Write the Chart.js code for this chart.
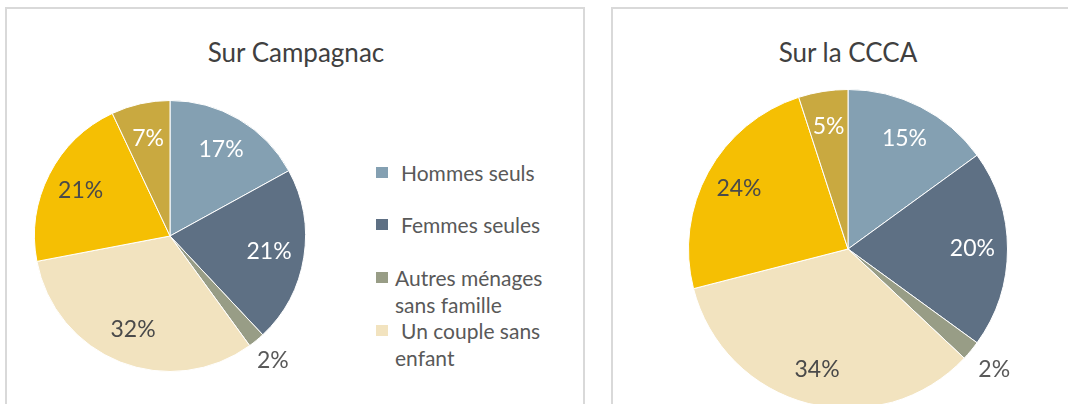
<!DOCTYPE html>
<html>
<head>
<meta charset="utf-8">
<script src="https://cdn.jsdelivr.net/npm/chart.js@4.4.0/dist/chart.umd.min.js"></script>
<style>
  body { margin: 0; width: 1068px; height: 404px; overflow: hidden; position: relative; background: #fff; font-family: Lato, "Open Sans", sans-serif; }
  .box { position: absolute; top: 7px; height: 420px; border: 2px solid #d9d9d9; border-bottom: none; box-sizing: border-box; }
  .title { position: absolute; top: 35px; width: 300px; margin-left: -150px; text-align: center; font-size: 26px; color: #404040; line-height: 34px; }
  canvas { position: absolute; }
  .legend-item { position: absolute; left: 376px; width: 190px; font-size: 21px; line-height: 27px; color: #595959; }
  .legend-item .sw { position: absolute; left: 0; top: 8px; width: 12px; height: 11px; }
  .legend-item .txt { position: absolute; left: 19px; width: 170px; }
</style>
</head>
<body>
<div class="box" style="left:5px; width:580px;"></div>
<div class="box" style="left:611px; width:500px;"></div>
<div class="title" style="left:296px;">Sur Campagnac</div>
<div class="title" style="left:848px;">Sur la CCCA</div>
<canvas id="pieCampagnac" width="352" height="352" style="left:-6px; top:60px;"></canvas>
<canvas id="pieCCCA" width="400" height="400" style="left:648px; top:49px;"></canvas>
<div id="legend"></div>

<script>
// menage types, in the order Excel draws them (clockwise from 12 o'clock)
const categories = ['Hommes seuls', 'Femmes seules', 'Autres ménages sans famille', 'Un couple sans enfant', 'Un couple avec enfant(s)', 'Famille monoparentale'];
const campagnacValues = [17, 21, 2, 32, 21, 7];
const cccaValues = [15, 20, 2, 34, 24, 5];

const sliceColors = ['#84a0b2', '#5e7084', '#989d86', '#f2e3bf', '#f5bf03', '#c9a940'];
const labelColors = ['#ffffff', '#ffffff', '#595959', '#4a4a4a', '#4a4a4a', '#ffffff'];

// legend only shows the first 4 (rest cut off in the original)
const legendTops = [159, 211, 264, 317];
const legendIndent = [6, 6, 0, 6];

const legendDiv = document.getElementById('legend');
categories.slice(0, 4).forEach((name, i) => {
    const item = document.createElement('div');
    item.className = 'legend-item';
    item.style.top = legendTops[i] + 'px';
    item.innerHTML = `<span class="sw" style="background:${sliceColors[i]}"></span>` +
                     `<span class="txt" style="text-indent:${legendIndent[i]}px">${name}</span>`;
    legendDiv.appendChild(item);
});

const pieLabels = {
    id: 'pieLabels',
    afterDatasetsDraw(chart, args, opts) {
        const ctx = chart.ctx;
        const meta = chart.getDatasetMeta(0);
        const data = chart.data.datasets[0].data;
        ctx.save();
        ctx.font = '23px Lato';
        ctx.textAlign = 'center';
        ctx.textBaseline = 'middle';
        meta.data.forEach((arc, i) => {
            const p = arc.getProps(['x', 'y', 'startAngle', 'endAngle', 'outerRadius'], true);
            const mid = (p.startAngle + p.endAngle) / 2;
            const outside = data[i] < 3;
            const d = p.outerRadius * (outside ? 1.19 : opts.inner);
            ctx.fillStyle = outside ? '#595959' : labelColors[i];
            ctx.fillText(data[i] + '%', p.x + Math.cos(mid) * d, p.y + Math.sin(mid) * d);
        });
        ctx.restore();
    }
};

function makePie(id, values, inner) {
    const ctx = document.getElementById(id).getContext('2d');
    return new Chart(ctx, {
        type: 'pie',
        data: {
            labels: categories,
            datasets: [{
                data: values,
                backgroundColor: sliceColors,
                borderColor: '#ffffff',
                borderWidth: 1
            }]
        },
        options: {
            responsive: false,
            animation: false,
            layout: { padding: 40 },
            plugins: {
                legend: { display: false },
                tooltip: { enabled: false },
                pieLabels: { inner: inner }
            }
        },
        plugins: [pieLabels]
    });
}

makePie('pieCampagnac', campagnacValues, 0.74);
makePie('pieCCCA', cccaValues, 0.78);
</script>
</body>
</html>
